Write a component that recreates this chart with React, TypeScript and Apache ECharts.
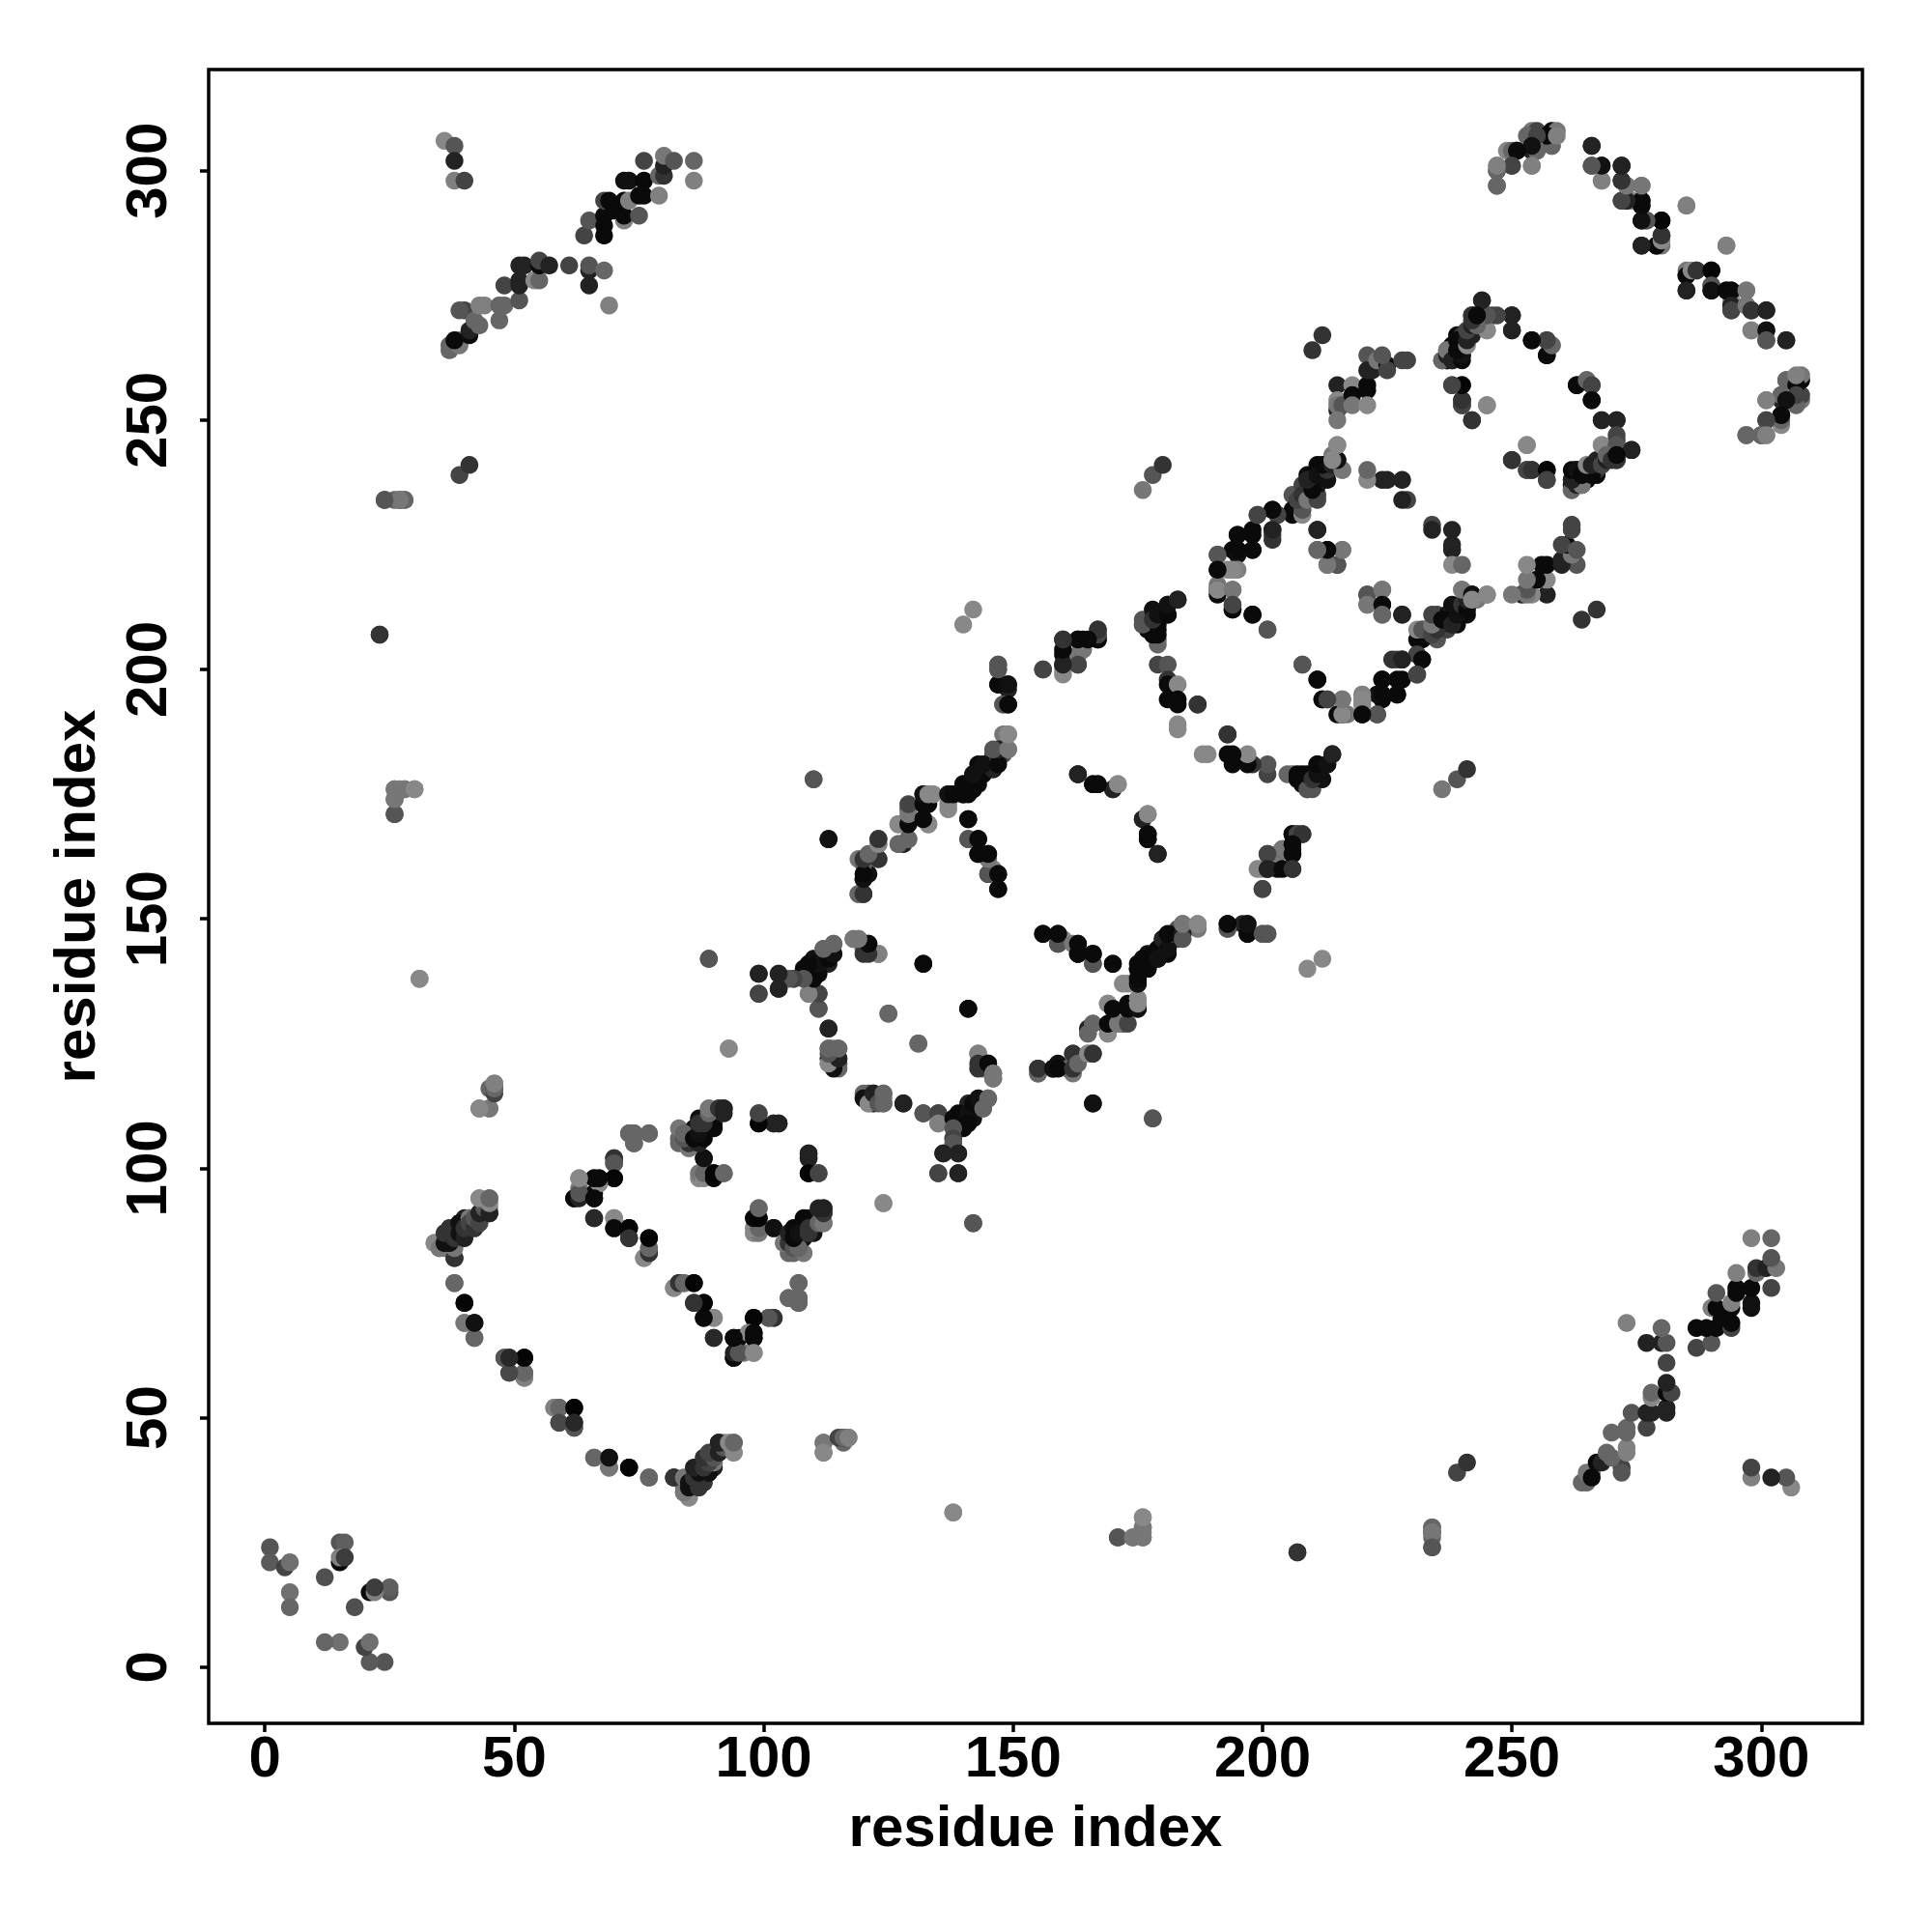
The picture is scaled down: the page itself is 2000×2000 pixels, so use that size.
import React, { useEffect, useRef } from "react";
import * as echarts from "echarts";

type Contact = [number, number, number];

const tickValues = [0, 50, 100, 150, 200, 250, 300];
const axisTitle = "residue index";

// [residue a, residue b, gray level of the dot]; each contact is shown at (a,b) and (b,a)
const cornerContacts: Contact[] = [
  [1,24,85],[1,21,90],[4,20,68],[5,21,112],[5,15,112],[5,12,102],[12,18,80],[15,25,85],[16,25,95],
  [15,21,10],[15,22,128],[16,22,60],
];
const farContacts: Contact[] = [
  [24,234,85],[27,234,51],[28,234,128],[26,234,102],[39,239,68],[41,241,51],[23,207,51],[26,176,128],[27,176,128],[28,176,119],[30,176,128],
  [26,174,119],[26,171,85],[31,138,136],[43,112,128],[45,112,128],[45,116,102],[46,116,34],[46,117,128],
  [93,124,128],[89,142,85],[110,178,102],[113,166,17],[112,45,119],[112,43,136],[115,46,68],[116,46,102],[117,46,128],
  [138,31,136],[171,26,85],[174,26,119],[176,26,119],[176,28,119],[176,30,136],[207,23,51],[234,28,102],[234,27,119],[234,24,85],
  [124,93,136],[142,89,85],[166,113,17],[178,110,85],[176,236,119],[178,239,85],[180,241,51],[140,209,136],[142,212,136],
];
const ringOneOuter: Contact[] = [
  [38,77,102],[40,73,10],[40,69,119],[42,69,17],[42,66,102],[48,62,85],[49,62,40],[52,62,5],[49,59,72],[52,58,128],[52,59,108],
  [58,52,128],[59,52,102],[62,52,5],[59,49,72],[62,48,85],[62,49,40],[66,42,102],[69,40,119],[69,42,17],[73,40,5],[77,38,102],[82,38,51],
  [84,35,119],[85,34,128],[84,36,119],[85,37,34],[86,36,10],[86,38,51],[88,37,51],[87,40,51],[89,39,17],[90,40,34],[88,41,85],[88,42,68],
  [90,42,34],[90,41,51],[91,43,85],[91,45,17],[92,45,136],[94,43,136],[94,45,102],
];
const ringOneStrand: Contact[] = [
  [34,85,136],[35,84,119],[38,82,51],[38,84,119],[36,85,17],[37,85,17],[36,87,51],[38,86,51],[39,87,17],[39,89,17],[40,86,34],[40,88,51],
  [41,90,119],[41,89,68],[42,88,51],[42,90,85],[43,89,68],[43,91,34],[44,92,85],[45,91,34],[45,93,136],[43,94,136],[45,94,102],
];
const ringTwo: Contact[] = [
  [63,98,136],[62,94,10],[63,96,119],[63,95,85],[66,94,10],[66,95,10],[67,97,119],[66,98,10],[67,98,17],[70,98,5],[70,101,85],[70,102,51],
  [66,90,40],[70,90,136],[70,88,17],[73,88,5],[73,86,51],[76,82,136],[77,83,68],[77,84,102],[77,86,5],
  [73,107,102],[74,107,102],[74,105,85],[77,107,102],
  [83,106,102],[83,108,119],[84,106,68],[85,107,34],[86,106,17],[86,108,17],[87,110,17],[88,107,17],[88,108,17],[89,109,85],[90,109,34],[89,112,119],[91,111,34],[91,112,34],[92,112,34],
  [99,111,85],[99,109,5],[102,109,34],[103,109,34],[88,102,10],[87,98,136],[87,99,119],[90,99,5],[92,99,102],
  [109,103,34],[109,102,34],[109,99,5],[111,99,68],
  [98,88,136],[99,88,102],[98,90,10],[99,90,5],[99,92,102],[102,88,17],
  [105,83,102],[104,85,119],[105,85,51],[106,84,85],[107,84,102],[105,87,34],[106,86,10],[106,88,10],[107,87,17],[108,88,17],[109,87,51],[108,90,10],[109,88,51],
  [111,89,102],[112,89,119],[112,91,51],[111,92,34],[112,92,34],
  [107,77,102],[105,74,102],[107,73,102],[107,74,102],[102,70,51],[101,70,85],[98,70,5],[97,67,136],[98,67,10],[98,66,10],
  [94,62,10],[94,63,34],[95,63,85],[98,63,136],[94,66,10],[90,66,40],[90,70,136],[88,70,10],[88,73,5],[86,73,51],[82,76,136],[83,77,51],[84,77,102],[86,77,5],
];
const ringThree: Contact[] = [
  [99,139,34],[99,135,68],[103,139,68],[103,136,34],[104,138,85],[106,138,102],[108,140,10],[109,138,34],[109,135,136],[110,142,17],[111,140,17],
  [112,142,17],[113,141,34],[112,144,119],[113,144,85],[113,143,17],[114,145,119],[111,135,68],[111,132,85],[113,128,34],
  [113,121,136],[114,124,119],[113,122,17],[114,122,34],[115,121,85],[115,122,51],[113,124,119],[115,124,119],
  [118,146,119],[119,146,102],[120,144,102],[120,143,51],[121,145,10],[123,143,119],[132,141,10],[141,132,10],[125,131,102],[131,125,102],
  [120,115,102],[120,114,17],[121,113,136],[122,115,34],[123,113,85],[124,115,102],[124,113,102],[128,113,34],[132,111,85],[135,111,68],[135,109,128],
  [138,110,10],[139,111,10],[139,109,10],[140,110,10],[141,111,17],[141,109,10],[142,113,10],[143,114,17],[144,112,102],[145,114,102],[138,108,85],[138,106,68],[138,105,85],
  [136,103,34],[139,103,34],[135,99,68],[139,99,34],[143,123,128],[143,121,51],[145,121,10],[146,119,119],[146,118,119],
];
const upperStrand: Contact[] = [
  [119,155,102],[120,155,51],[120,158,17],[121,159,17],[119,162,119],[123,162,68],[120,161,102],[123,165,119],[123,166,51],
  [127,165,136],[128,165,34],[129,166,102],[127,169,136],[128,169,10],[129,170,136],[129,172,85],[133,169,119],[132,170,34],[132,173,10],[133,173,10],
  [132,175,34],[133,175,136],[134,175,136],[137,173,136],[137,175,34],[138,175,119],
  [140,175,10],[141,175,10],[140,177,10],[142,176,10],[142,179,10],[143,177,17],[144,179,10],[143,181,10],[145,181,51],[146,180,17],[146,181,34],[147,183,17],
  [146,183,68],[148,183,85],[149,184,102],[148,187,119],[149,187,136],
  [147,201,102],[147,200,119],[147,197,10],[148,197,119],[149,197,34],[149,196,34],[148,193,136],[149,193,5],
];
const ringFour: Contact[] = [
  [141,170,5],[141,166,85],[143,166,5],[143,163,17],[145,163,17],[145,159,17],[146,160,136],[147,159,17],[147,156,5],
  [163,179,34],[166,177,10],[167,177,10],[170,176,51],[171,177,128],[176,170,34],[177,171,136],[177,167,10],[177,166,10],[179,163,34],
  [156,147,10],[159,145,85],[159,147,10],[162,145,119],[163,145,10],[163,143,10],[166,141,85],[166,143,10],[170,141,10],
  [155,119,102],[155,120,51],[158,120,17],[159,120,10],[162,120,51],[162,123,51],[163,121,102],[165,123,136],[166,123,51],[165,127,102],[166,129,102],
  [169,127,136],[169,129,10],[171,129,119],[173,129,68],[169,133,136],[170,132,10],[173,132,10],[172,137,136],[175,132,17],[175,133,136],[175,137,17],[175,138,10],[175,140,10],
  [176,142,10],[176,140,10],[177,140,10],[178,143,10],[179,142,17],[180,146,34],[181,144,17],[182,147,51],[181,147,10],[184,147,34],[184,146,85],[184,149,119],[187,149,136],
  [193,148,85],[193,149,10],[197,147,10],[197,149,17],[200,147,85],[201,147,85],
];
const ringFourUpper: Contact[] = [
  [156,200,85],[160,200,136],[160,201,51],[160,203,10],[160,206,51],[163,201,68],[163,203,119],[164,204,68],[163,206,10],[164,206,10],[167,206,10],[167,207,68],[167,208,68],
  [176,209,34],[176,210,85],[177,208,10],[179,208,10],[179,206,102],[178,210,10],[178,212,17],[179,211,10],[181,211,17],[181,213,17],[183,214,34],
  [179,201,68],[181,201,85],[181,198,51],[181,197,10],[183,197,136],[181,194,10],[183,194,10],[183,193,10],[183,189,136],[183,188,136],[187,193,51],
  [193,187,51],[205,179,102],[207,179,10],[207,178,10],[208,177,10],[209,176,85],[209,179,10],[210,178,51],[211,179,17],[211,181,10],[213,181,17],[214,183,34],
  [204,164,119],[206,167,10],[207,167,68],[208,167,51],[206,165,10],[206,163,10],[201,163,68],[199,160,136],[201,160,34],[204,160,10],[206,160,51],[200,156,68],
];
const ringFive: Contact[] = [
  [191,223,85],[191,220,10],[193,220,136],[194,220,136],[191,217,119],[191,216,34],[194,216,119],[194,213,85],[194,212,10],[198,211,10],[201,208,85],
  [194,224,10],[195,224,10],[195,227,10],[198,228,10],[198,224,17],[199,231,85],[202,232,10],[203,231,68],[202,228,34],[202,227,68],
  [211,228,40],[211,224,102],[213,224,10],[216,224,102],[213,221,119],[215,221,85],
  [221,215,85],[224,216,119],[221,213,119],[224,213,10],[224,211,102],[228,211,34],
  [234,229,68],[234,228,34],[238,228,34],[238,225,34],[238,224,34],[238,221,136],[240,221,102],
  [206,235,85],[207,235,85],[208,235,119],[208,237,68],[209,236,51],[206,232,10],[208,232,136],[210,237,10],[209,239,10],[211,235,68],[211,237,17],[212,238,34],
  [211,241,10],[214,243,119],[215,242,10],[215,245,119],[216,240,136],
  [231,206,10],[231,208,136],[232,208,85],[234,207,68],[235,208,51],[234,209,119],[234,211,68],[236,210,10],[237,210,10],[238,209,34],[238,213,17],[239,211,17],
  [240,213,51],[241,212,10],[241,214,34],[240,216,119],[242,215,17],[242,214,136],[245,215,136],
  [231,203,68],[232,202,10],[226,202,51],[228,202,34],[231,199,68],[227,198,10],[224,198,10],[227,195,10],[223,195,17],[224,195,10],[220,195,128],[220,194,136],
  [223,191,85],[220,191,10],[215,191,10],[216,191,136],[216,194,119],[212,194,10],[213,194,68],[211,198,10],[208,201,85],
];
const ringSix: Contact[] = [
  [212,267,51],[210,264,51],[215,257,34],[215,254,136],[215,252,34],[215,253,119],[216,253,85],[215,250,119],[218,257,136],[218,255,10],[218,253,119],
  [221,257,10],[221,256,10],[221,253,136],[221,263,85],[221,260,34],[222,260,34],[223,262,119],[225,261,10],[225,260,68],[224,263,85],[228,262,68],[229,262,68],
  [236,262,85],[237,262,10],[238,262,10],[239,263,17],[240,263,10],[237,264,34],[238,265,10],[240,265,10],[239,267,10],[240,267,51],[241,268,85],[242,267,34],[242,269,102],
  [242,271,51],[244,271,10],[244,274,34],[245,268,136],[245,271,102],[246,271,68],[250,271,34],[250,268,34],
  [238,257,68],[240,257,5],[240,254,51],[240,253,51],[242,250,34],[245,253,128],
  [254,266,10],[257,263,10],[257,266,85],[258,265,102],[263,257,10],[265,258,102],[266,257,68],[266,254,10],
  [268,250,34],[271,250,34],[268,245,136],[271,247,68],[271,245,85],[274,244,34],
  [262,237,10],[262,236,102],[263,237,34],[264,237,119],[262,238,34],[262,240,10],[263,240,17],[264,239,10],[266,239,10],[265,241,136],[266,241,34],
  [268,241,68],[269,242,34],[269,243,102],[270,242,51],[271,242,51],[271,243,10],
  [250,242,51],[253,240,68],[254,240,51],[257,240,5],[257,238,68],[253,245,136],
];
const topLeftContacts: Contact[] = [
  [36,306,136],[38,305,85],[38,302,34],[38,298,128],[40,298,68],
  [37,264,102],[37,265,102],[39,265,119],[39,266,119],[38,266,10],[41,267,10],[41,268,34],[40,272,68],[39,272,85],[42,270,102],[43,269,102],[43,273,128],[44,273,128],
  [47,270,102],[47,273,102],[48,273,102],[48,277,68],[51,274,85],[51,277,34],[51,278,34],[51,281,34],[52,281,34],[54,278,136],[55,278,102],[55,281,10],[55,282,68],[57,281,34],
  [61,281,68],[65,280,34],[65,281,85],[68,280,102],[65,277,34],[69,273,128],
  [64,287,68],[68,287,10],[65,290,85],[68,289,10],[68,291,10],[68,294,68],[69,294,10],[70,292,10],[72,290,128],[72,291,10],[75,291,85],[72,294,10],[73,294,128],[75,295,10],[76,295,10],[79,295,128],
  [72,298,17],[73,298,17],[76,298,10],[79,299,102],[80,299,51],[76,302,68],[80,301,34],[80,303,119],[82,302,85],[86,302,102],[86,298,128],
];
const topRightContacts: Contact[] = [
  [247,301,128],[247,300,68],[247,297,102],[250,301,68],[254,301,128],[249,304,136],[251,304,5],[254,304,34],[255,304,119],[258,305,102],
  [254,308,119],[255,308,68],[258,308,10],[259,308,119],
  [266,305,34],[266,301,85],[268,301,17],[268,298,128],[272,301,34],[272,298,34],[273,297,102],[276,297,119],[272,294,85],[273,294,17],[274,294,136],[276,294,5],[276,293,5],
  [276,290,5],[277,290,85],[280,290,5],[280,287,34],[279,285,10],[280,285,119],[276,285,34],[285,293,128],[293,285,128],
  [285,279,10],[285,276,34],[286,280,136],[287,280,51],[290,280,5],[290,277,85],[290,276,17],[293,276,10],[294,276,10],[297,276,119],[294,273,34],[294,272,68],[297,273,119],[298,272,51],[301,272,34],
  [298,268,128],[301,268,17],[301,266,85],[305,266,34],
  [305,258,102],[307,257,10],[307,259,128],[307,253,102],[307,255,68],[304,255,102],[305,254,17],[301,254,128],[304,250,102],[304,251,10],[301,250,68],[297,247,102],[300,247,102],[301,247,128],
];

const allContacts: Contact[] = [
  ...cornerContacts, ...farContacts, ...ringOneOuter, ...ringOneStrand, ...ringTwo, ...ringThree, ...upperStrand,
  ...ringFour, ...ringFourUpper, ...ringFive, ...ringSix, ...topLeftContacts, ...topRightContacts,
];

const FONT = "Liberation Sans";

export default function App() {
  const ref = useRef<HTMLDivElement>(null);
  useEffect(() => {
    if (!ref.current) return;
    const chart = echarts.init(ref.current, undefined, { renderer: "svg" });
    const data = allContacts.flatMap(([a, b, g]) => {
      const color = `rgb(${g},${g},${g})`;
      return [
        { value: [a, b], itemStyle: { color, opacity: 1 } },
        { value: [b, a], itemStyle: { color, opacity: 1 } },
      ];
    });
    const axisBase = {
      type: "value" as const,
      min: -11.28,
      max: 320.28,
      splitLine: { show: false },
      axisLine: { show: false, onZero: false },
      axisTick: { show: true, customValues: tickValues, length: 9, lineStyle: { color: "#000", width: 3.5 } },
      name: axisTitle,
      nameLocation: "middle" as const,
      nameTextStyle: { fontFamily: FONT, fontWeight: "bold" as const, fontSize: 60, color: "#000" },
    };
    const labelBase = {
      show: true,
      customValues: tickValues,
      fontFamily: FONT,
      fontWeight: "bold" as const,
      fontSize: 60,
      color: "#000",
      hideOverlap: false,
      showMinLabel: true,
      showMaxLabel: true,
    };
    chart.setOption({
      animation: false,
      backgroundColor: "#fff",
      grid: { left: 216, top: 72, width: 1712, height: 1712, show: true, borderColor: "#000", borderWidth: 3.5, backgroundColor: "transparent" },
      xAxis: { ...axisBase, nameGap: 76, axisLabel: { ...labelBase, margin: 4 } },
      yAxis: { ...axisBase, nameGap: 109, nameRotate: 90, axisLabel: { ...labelBase, rotate: 90, margin: 35 } },
      series: [{ type: "scatter", symbol: "circle", symbolSize: 18.5, data, silent: true, itemStyle: { opacity: 1 } }],
    });
    return () => chart.dispose();
  }, []);
  return <div ref={ref} style={{ position: "absolute", left: 0, top: 0, width: 2000, height: 2000 }} />;
}
